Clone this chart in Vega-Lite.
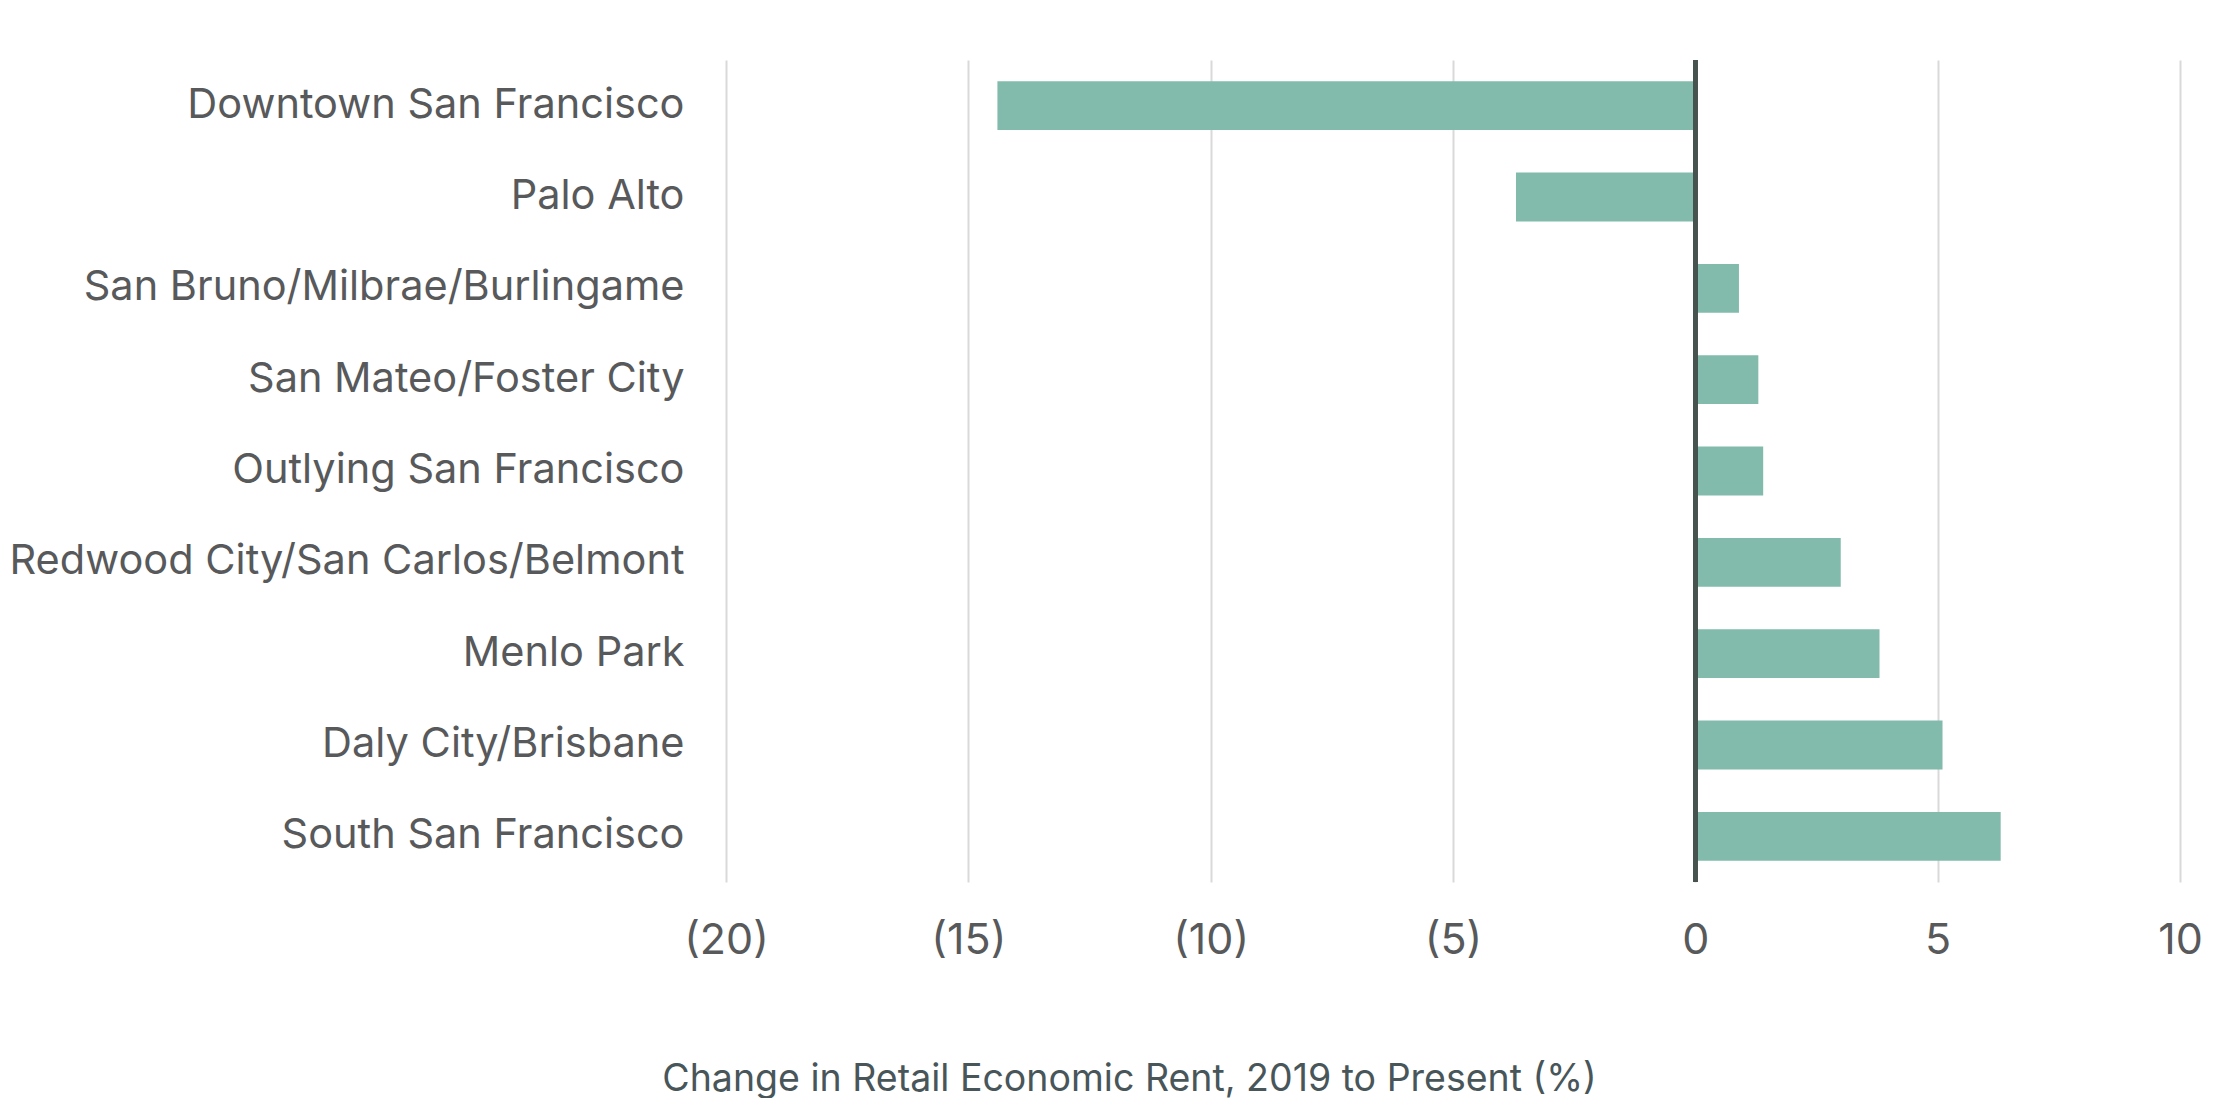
{
  "$schema": "https://vega.github.io/schema/vega-lite/v6.json",
  "width": 1454,
  "height": 822,
  "padding": {"left": 9, "top": 58, "right": 40, "bottom": 0},
  "autosize": {"type": "pad"},
  "config": {
    "view": {"stroke": null},
    "font": "Inter"
  },
  "data": {
    "values": [
      {"market": "Downtown San Francisco", "change": -14.4},
      {"market": "Palo Alto", "change": -3.7},
      {"market": "San Bruno/Milbrae/Burlingame", "change": 0.9},
      {"market": "San Mateo/Foster City", "change": 1.3},
      {"market": "Outlying San Francisco", "change": 1.4},
      {"market": "Redwood City/San Carlos/Belmont", "change": 3.0},
      {"market": "Menlo Park", "change": 3.8},
      {"market": "Daly City/Brisbane", "change": 5.1},
      {"market": "South San Francisco", "change": 6.3}
    ]
  },
  "layer": [
    {
      "mark": {"type": "bar", "color": "#82bbab"},
      "encoding": {
        "y": {
          "field": "market",
          "type": "nominal",
          "sort": null,
          "scale": {"paddingInner": 0.466, "paddingOuter": 0.233},
          "axis": {
            "title": null,
            "domain": false,
            "ticks": false,
            "grid": false,
            "labelFontSize": 41.5,
            "labelColor": "#58595b",
            "labelPadding": 42,
            "labelLimit": 1000
          }
        },
        "x": {
          "field": "change",
          "type": "quantitative",
          "scale": {"domain": [-20, 10], "nice": false},
          "axis": {
            "values": [-20, -15, -10, -5, 0, 5, 10],
            "labelExpr": "datum.value < 0 ? '(' + abs(datum.value) + ')' : datum.label",
            "domain": false,
            "ticks": false,
            "grid": true,
            "gridColor": "#d9d9d9",
            "gridWidth": 2,
            "labelFontSize": 43,
            "labelColor": "#58595b",
            "labelPadding": 37,
            "labelFlush": false,
            "title": "Change in Retail Economic Rent, 2019 to Present (%)",
            "titleFontSize": 37.5,
            "titleFontWeight": "normal",
            "titleColor": "#48565a",
            "titleX": 403,
            "titleY": 197,
            "titleBaseline": "middle"
          }
        }
      }
    },
    {
      "mark": {"type": "rule", "color": "#46534f", "strokeWidth": 4},
      "encoding": {
        "x": {"datum": 0, "type": "quantitative"}
      }
    }
  ]
}
